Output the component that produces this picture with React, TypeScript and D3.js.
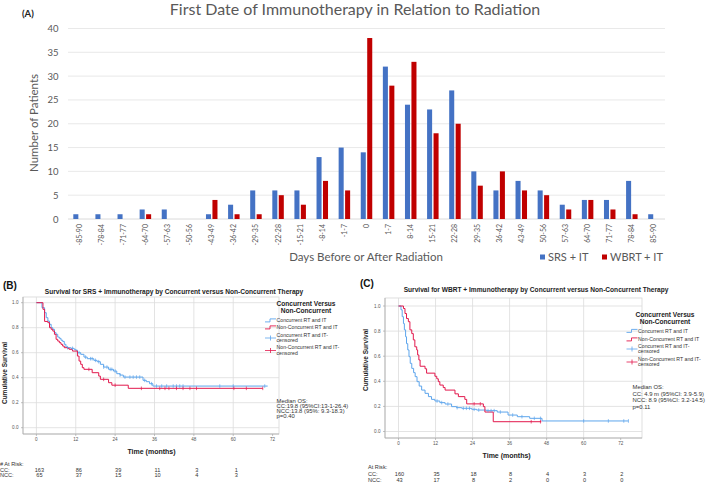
import React from 'react';
import * as d3 from 'd3';

// ---- Panel A data ----
const dayBins = ['-85-90', '-78-84', '-71-77', '-64-70', '-57-63', '-50-56', '-43-49', '-36-42', '-29-35', '-22-28', '-15-21', '-8-14', '-1-7', '0', '1-7', '8-14', '15-21', '22-28', '29-35', '36-42', '43-49', '50-56', '57-63', '64-70', '71-77', '78-84', '85-90'];
const srsCounts = [1, 1, 1, 2, 2, 0, 1, 3, 6, 6, 6, 13, 15, 14, 32, 24, 23, 27, 10, 6, 8, 6, 3, 4, 4, 8, 1];
const wbrtCounts = [0, 0, 0, 1, 0, 0, 4, 1, 1, 5, 3, 8, 6, 38, 28, 33, 18, 20, 7, 10, 6, 5, 2, 4, 2, 1, 0];
const countTicks = [0, 5, 10, 15, 20, 25, 30, 35, 40];

// ---- Panel B data (SRS + IT), [months, survival] ----
const srsCC: [number, number][] = [[0, 1], [1.7, 0.96], [2.5, 0.92], [3, 0.88], [3.5, 0.853], [4, 0.827], [4.5, 0.8], [5, 0.787], [5.5, 0.76], [6, 0.747], [6.5, 0.725], [7, 0.715], [7.5, 0.7], [8, 0.69], [8.5, 0.667], [9, 0.645], [9.5, 0.64], [10.5, 0.635], [11.5, 0.627], [12, 0.62], [12.5, 0.6], [13.5, 0.587], [14.5, 0.565], [15.5, 0.552], [17.5, 0.539], [18.5, 0.528], [19.5, 0.507], [20.5, 0.485], [22, 0.467], [23.5, 0.453], [24.5, 0.432], [25.5, 0.421], [26.5, 0.405], [32.5, 0.379], [33.5, 0.368], [34.5, 0.352], [35.5, 0.333], [70.5, 0.333]];
const srsNCC: [number, number][] = [[0, 1], [2, 0.947], [2.5, 0.85], [3.5, 0.84], [4, 0.8], [4.5, 0.787], [5, 0.773], [5.5, 0.747], [6, 0.707], [6.5, 0.693], [7, 0.68], [7.5, 0.667], [8, 0.653], [8.5, 0.64], [9.5, 0.635], [10, 0.627], [11, 0.613], [12.5, 0.573], [13, 0.533], [13.5, 0.507], [14, 0.48], [14.5, 0.467], [17, 0.44], [19, 0.413], [19.5, 0.387], [22, 0.36], [23, 0.34], [28, 0.315], [69, 0.315]];
const srsCCCensor = [9.5, 11, 13, 15, 16.5, 17, 18, 19, 20.5, 21.5, 22.5, 23, 24, 25.5, 27, 28.5, 29.5, 30.5, 31.5, 33, 35.1, 36.6, 38.2, 39.7, 41.7, 42.7, 43.7, 44.7, 55.9, 60, 69.6];
const srsNCCCensor = [16, 20.5, 24, 32, 37.6, 39.2, 40.4, 42.7, 44.7, 46.8, 48.8, 60.2, 64, 69];
const srsRiskCC = ['163', '86', '39', '11', '3', '1'];
const srsRiskNCC = ['65', '37', '15', '10', '4', '3'];

// ---- Panel C data (WBRT + IT) ----
const wbrtCC: [number, number][] = [[0, 1], [0.8, 0.97], [1.2, 0.915], [1.6, 0.86], [1.9, 0.81], [2.3, 0.755], [2.6, 0.7], [3, 0.65], [3.4, 0.596], [3.8, 0.543], [4.3, 0.503], [4.9, 0.469], [5.4, 0.437], [6, 0.397], [6.7, 0.362], [7.5, 0.33], [8.6, 0.304], [9.7, 0.278], [10.7, 0.256], [11.8, 0.243], [13.4, 0.23], [15.1, 0.219], [17.2, 0.198], [18.8, 0.19], [20.5, 0.185], [23.7, 0.177], [25.3, 0.171], [28.5, 0.166], [32, 0.155], [35.5, 0.131], [38.5, 0.118], [42.5, 0.105], [46.5, 0.084], [74.5, 0.084]];
const wbrtNCC: [number, number][] = [[0, 1], [1.6, 0.98], [2.1, 0.94], [2.6, 0.9], [3.2, 0.875], [3.7, 0.81], [4.3, 0.78], [4.8, 0.73], [5.3, 0.675], [5.9, 0.65], [6.2, 0.61], [6.6, 0.57], [7, 0.52], [8.6, 0.5], [9.1, 0.465], [11.8, 0.44], [12.4, 0.42], [12.9, 0.397], [13.4, 0.37], [14.5, 0.35], [15.1, 0.33], [18.3, 0.3], [19.4, 0.278], [21.5, 0.256], [22.1, 0.22], [27.5, 0.198], [28, 0.155], [30.7, 0.078], [46.3, 0.078]];
const wbrtCCCensor = [12.5, 14, 16, 19, 21, 22, 23, 24.5, 26, 29, 30, 31, 33, 37, 40, 44, 46, 60, 68, 73, 74.5];
const wbrtNCCCensor = [24.5, 26.5, 43, 46];
const wbrtRiskCC = ['160', '35', '18', '8', '4', '3', '2'];
const wbrtRiskNCC = ['43', '17', '8', '2', '0', '0', '0'];

const monthTicks = [0, 12, 24, 36, 48, 60, 72];
const survTicks = [0, 0.2, 0.4, 0.6, 0.8, 1.0];
const legendItems = ['Concurrent RT and IT', 'Non-Concurrent RT and IT', 'Concurrent RT and IT-|censored', 'Non-Concurrent RT and IT-|censored'];

const BLUE_BAR = '#4472C4';
const RED_BAR = '#C00000';
const KM_BLUE = '#5DA5EC';
const KM_RED = '#E2184C';
const XL = 'Lato, "Open Sans", sans-serif';
const SP = '"Liberation Sans", Arial, sans-serif';

const survAt = (data: [number, number][], t: number) => {
  let s = data[0][1];
  for (const d of data) if (d[0] <= t) s = d[1];
  return s;
};

function BarPanel() {
  const x = d3.scaleBand<string>().domain(dayBins).range([68, 665]);
  const inner = d3.scaleBand<string>().domain(['srs', 'wbrt'])
    .range([x.bandwidth() * 0.24, x.bandwidth() * 0.76]).paddingInner(0.22);
  const y = d3.scaleLinear().domain([0, 40]).range([219, 28.5]);
  return (
    <g>
      <text x={22} y={17} fontFamily={XL} fontWeight="bold" fontSize={9.5} fill="#222">(A)</text>
      <text x={355} y={14.5} textAnchor="middle" fontFamily={XL} fontSize={16} fill="#595959">First Date of Immunotherapy in Relation to Radiation</text>
      {countTicks.map(v => (
        <g key={v}>
          <line x1={68} x2={665} y1={y(v)} y2={y(v)} stroke={v === 0 ? '#d0d0d0' : '#e3e3e3'} strokeWidth={0.8} />
          <text x={58.5} y={y(v) + 3.5} textAnchor="end" fontFamily={XL} fontSize={9.5} fill="#595959">{v}</text>
        </g>
      ))}
      <text transform="translate(38,123) rotate(-90)" textAnchor="middle" fontFamily={XL} fontSize={11.5} fill="#595959">Number of Patients</text>
      {dayBins.map((c, i) => (
        <g key={c}>
          {srsCounts[i] > 0 && <rect x={x(c)! + inner('srs')!} y={y(srsCounts[i])} width={inner.bandwidth()} height={y(0) - y(srsCounts[i])} fill={BLUE_BAR} />}
          {wbrtCounts[i] > 0 && <rect x={x(c)! + inner('wbrt')!} y={y(wbrtCounts[i])} width={inner.bandwidth()} height={y(0) - y(wbrtCounts[i])} fill={RED_BAR} />}
          <text transform={`translate(${x(c)! + x.bandwidth() / 2},224) rotate(-90)`} dy="0.35em" textAnchor="end" fontFamily={XL} fontSize={7} fill="#595959">{c}</text>
        </g>
      ))}
      <text x={366} y={261} textAnchor="middle" fontFamily={XL} fontSize={11.5} fill="#595959">Days Before or After Radiation</text>
      <rect x={540} y={254.5} width={5} height={5} fill={BLUE_BAR} />
      <text x={548} y={261} fontFamily={XL} fontSize={11} fill="#595959">SRS + IT</text>
      <rect x={602} y={254.5} width={5} height={5} fill={RED_BAR} />
      <text x={610} y={261} fontFamily={XL} fontSize={11} fill="#595959">WBRT + IT</text>
    </g>
  );
}

type KMProps = {
  label: string; labelX: number; title: string; titleX: number; titleY: number;
  frame: [number, number, number, number]; xr: [number, number]; yr: [number, number];
  cc: [number, number][]; ncc: [number, number][]; ccCens: number[]; nccCens: number[];
  legX: number; legTitleX: number; legY: number[]; medX: number; medY: number[]; median: string[];
  riskTitle: string; riskX: number; riskY: number[]; riskCC: string[]; riskNCC: string[]; riskOff: number;
  ylabX: number; ylabY: number; xlabY: number;
};

function KMPanel(p: KMProps) {
  const x = d3.scaleLinear().domain([0, 72]).range(p.xr);
  const y = d3.scaleLinear().domain([0, 1]).range(p.yr);
  const [fx0, fy0, fx1, fy1] = p.frame;
  const line = d3.line<[number, number]>().x(d => x(d[0])).y(d => y(d[1])).curve(d3.curveStepAfter);
  const censor = (data: [number, number][], times: number[], color: string) =>
    times.map((t, i) => {
      const yy = y(survAt(data, t));
      return <line key={i} x1={x(t)} x2={x(t)} y1={yy - 1.8} y2={yy + 1.8} stroke={color} strokeWidth={0.7} />;
    });
  const lx = p.legX;
  return (
    <g fontFamily={SP}>
      <text x={p.labelX} y={p.titleY - 5} fontWeight="bold" fontSize={10} fill="#111">{p.label}</text>
      <text x={p.titleX} y={p.titleY} textAnchor="middle" fontWeight="bold" fontSize={6.6} fill="#222">{p.title}</text>
      <rect x={fx0} y={fy0} width={fx1 - fx0} height={fy1 - fy0} fill="none" stroke="#d6d6d6" strokeWidth={0.8} />
      {survTicks.map(v => (
        <g key={v}>
          <line x1={fx0} x2={fx1} y1={y(v)} y2={y(v)} stroke="#dcdcdc" strokeWidth={0.8} />
          <line x1={fx0 - 2} x2={fx0} y1={y(v)} y2={y(v)} stroke="#999" strokeWidth={0.6} />
          <text x={fx0 - 4.5} y={y(v) + 1.6} textAnchor="end" fontSize={4.6} fill="#555">{v.toFixed(1)}</text>
        </g>
      ))}
      {monthTicks.map(t => (
        <g key={t}>
          {t < 72 && <line x1={x(t)} x2={x(t)} y1={fy0} y2={fy1} stroke="#dcdcdc" strokeWidth={0.8} />}
          <line x1={x(t)} x2={x(t)} y1={fy1} y2={fy1 + 2} stroke="#999" strokeWidth={0.6} />
          <text x={x(t)} y={fy1 + 7} textAnchor="middle" fontSize={4.6} fill="#555">{t}</text>
        </g>
      ))}
      <line x1={fx0} x2={fx1} y1={fy1} y2={fy1} stroke="#aaa" strokeWidth={0.8} />
      <line x1={fx0} x2={fx0} y1={fy0} y2={fy1} stroke="#aaa" strokeWidth={0.8} />
      <path d={line(p.cc)!} fill="none" stroke={KM_BLUE} strokeWidth={1} />
      <path d={line(p.ncc)!} fill="none" stroke={KM_RED} strokeWidth={1} />
      {censor(p.cc, p.ccCens, KM_BLUE)}
      {censor(p.ncc, p.nccCens, KM_RED)}
      <text transform={`translate(${p.ylabX},${p.ylabY}) rotate(-90)`} textAnchor="middle" fontWeight="bold" fontSize={6.5} fill="#222">Cumulative Survival</text>
      <text x={(p.xr[0] + p.xr[1]) / 2 - 3} y={p.xlabY} textAnchor="middle" fontWeight="bold" fontSize={7} fill="#222">Time (months)</text>
      <text x={p.legTitleX} y={p.legY[0]} textAnchor="middle" fontWeight="bold" fontSize={6.6} fill="#222">Concurrent Versus</text>
      <text x={p.legTitleX} y={p.legY[1]} textAnchor="middle" fontWeight="bold" fontSize={6.6} fill="#222">Non-Concurrent</text>
      {legendItems.map((it, i) => {
        const yy = p.legY[i + 2];
        const color = i % 2 === 0 ? KM_BLUE : KM_RED;
        const lines = it.split('|');
        const sy = lines.length > 1 ? yy + 1.5 : yy - 1.6;
        return (
          <g key={it}>
            {i < 2
              ? <path d={`M${lx},${sy + 1.5}H${lx + 5}V${sy - 1.5}H${lx + 11}`} fill="none" stroke={color} strokeWidth={0.9} />
              : <g>
                  <line x1={lx} x2={lx + 11} y1={sy} y2={sy} stroke={color} strokeWidth={0.8} />
                  <line x1={lx + 5.5} x2={lx + 5.5} y1={sy - 2.5} y2={sy + 2.5} stroke={color} strokeWidth={0.8} />
                </g>}
            {lines.map((l, j) => (
              <text key={j} x={lx + 11.5} y={yy + j * 5.5} fontSize={5.2} fill="#333">{l}</text>
            ))}
          </g>
        );
      })}
      {p.median.map((m, i) => (
        <text key={m} x={p.medX} y={p.medY[i]} fontSize={5.9} fill="#333">{m}</text>
      ))}
      <text x={p.riskX} y={p.riskY[0]} fontSize={5.6} fill="#333">{p.riskTitle}</text>
      <text x={p.riskX} y={p.riskY[1]} fontSize={5.6} fill="#333">CC:</text>
      <text x={p.riskX} y={p.riskY[2]} fontSize={5.6} fill="#333">NCC:</text>
      {p.riskCC.map((v, i) => (
        <g key={i}>
          <text x={x(monthTicks[i]) + p.riskOff} y={p.riskY[1]} textAnchor="middle" fontSize={5.6} fill="#333">{v}</text>
          <text x={x(monthTicks[i]) + p.riskOff} y={p.riskY[2]} textAnchor="middle" fontSize={5.6} fill="#333">{p.riskNCC[i]}</text>
        </g>
      ))}
    </g>
  );
}

export default function App() {
  return (
    <svg width={709} height={484} style={{ position: 'absolute', left: 0, top: 0, background: '#fff' }}>
      <rect width={709} height={484} fill="#fff" />
      <BarPanel />
      <KMPanel
        label="(B)" labelX={3} title="Survival for SRS + Immunotherapy by Concurrent versus Non-Concurrent Therapy" titleX={174} titleY={293.5}
        frame={[23, 297, 279, 434]} xr={[36.4, 272.6]} yr={[427.7, 302.7]}
        cc={srsCC} ncc={srsNCC} ccCens={srsCCCensor} nccCens={srsNCCCensor}
        legX={265} legTitleX={306} legY={[305.5, 312.5, 322, 329, 336.5, 349]}
        medX={276.5} medY={[402.5, 408, 413.2, 418.4]}
        median={['Median OS:', 'CC:19.8 (95%CI:13-1-26.4)', 'NCC:13.8 (95%: 9.3-18.3)', 'p=0.40']}
        riskTitle="# At Risk:" riskX={0} riskY={[466, 472, 477]} riskCC={srsRiskCC} riskNCC={srsRiskNCC} riskOff={3}
        ylabX={7} ylabY={373} xlabY={453.5}
      />
      <KMPanel
        label="(C)" labelX={360} title="Survival for WBRT + Immunotherapy by Concurrent versus Non-Concurrent Therapy" titleX={536} titleY={292}
        frame={[385, 298, 642, 438]} xr={[398.5, 620.7]} yr={[431.5, 306]}
        cc={wbrtCC} ncc={wbrtNCC} ccCens={wbrtCCCensor} nccCens={wbrtNCCCensor}
        legX={626.5} legTitleX={665} legY={[317, 323.5, 332.5, 341, 347.5, 360.5]}
        medX={632.5} medY={[389, 395.7, 402.4, 409]}
        median={['Median OS:', 'CC: 4.9 m (95%CI: 3.9-5.9)', 'NCC: 8.9 (95%CI: 3.2-14.5)', 'p=0.11']}
        riskTitle="At Risk:" riskX={368} riskY={[468.5, 476, 481.5]} riskCC={wbrtRiskCC} riskNCC={wbrtRiskNCC} riskOff={1}
        ylabX={368} ylabY={360} xlabY={458}
      />
    </svg>
  );
}
